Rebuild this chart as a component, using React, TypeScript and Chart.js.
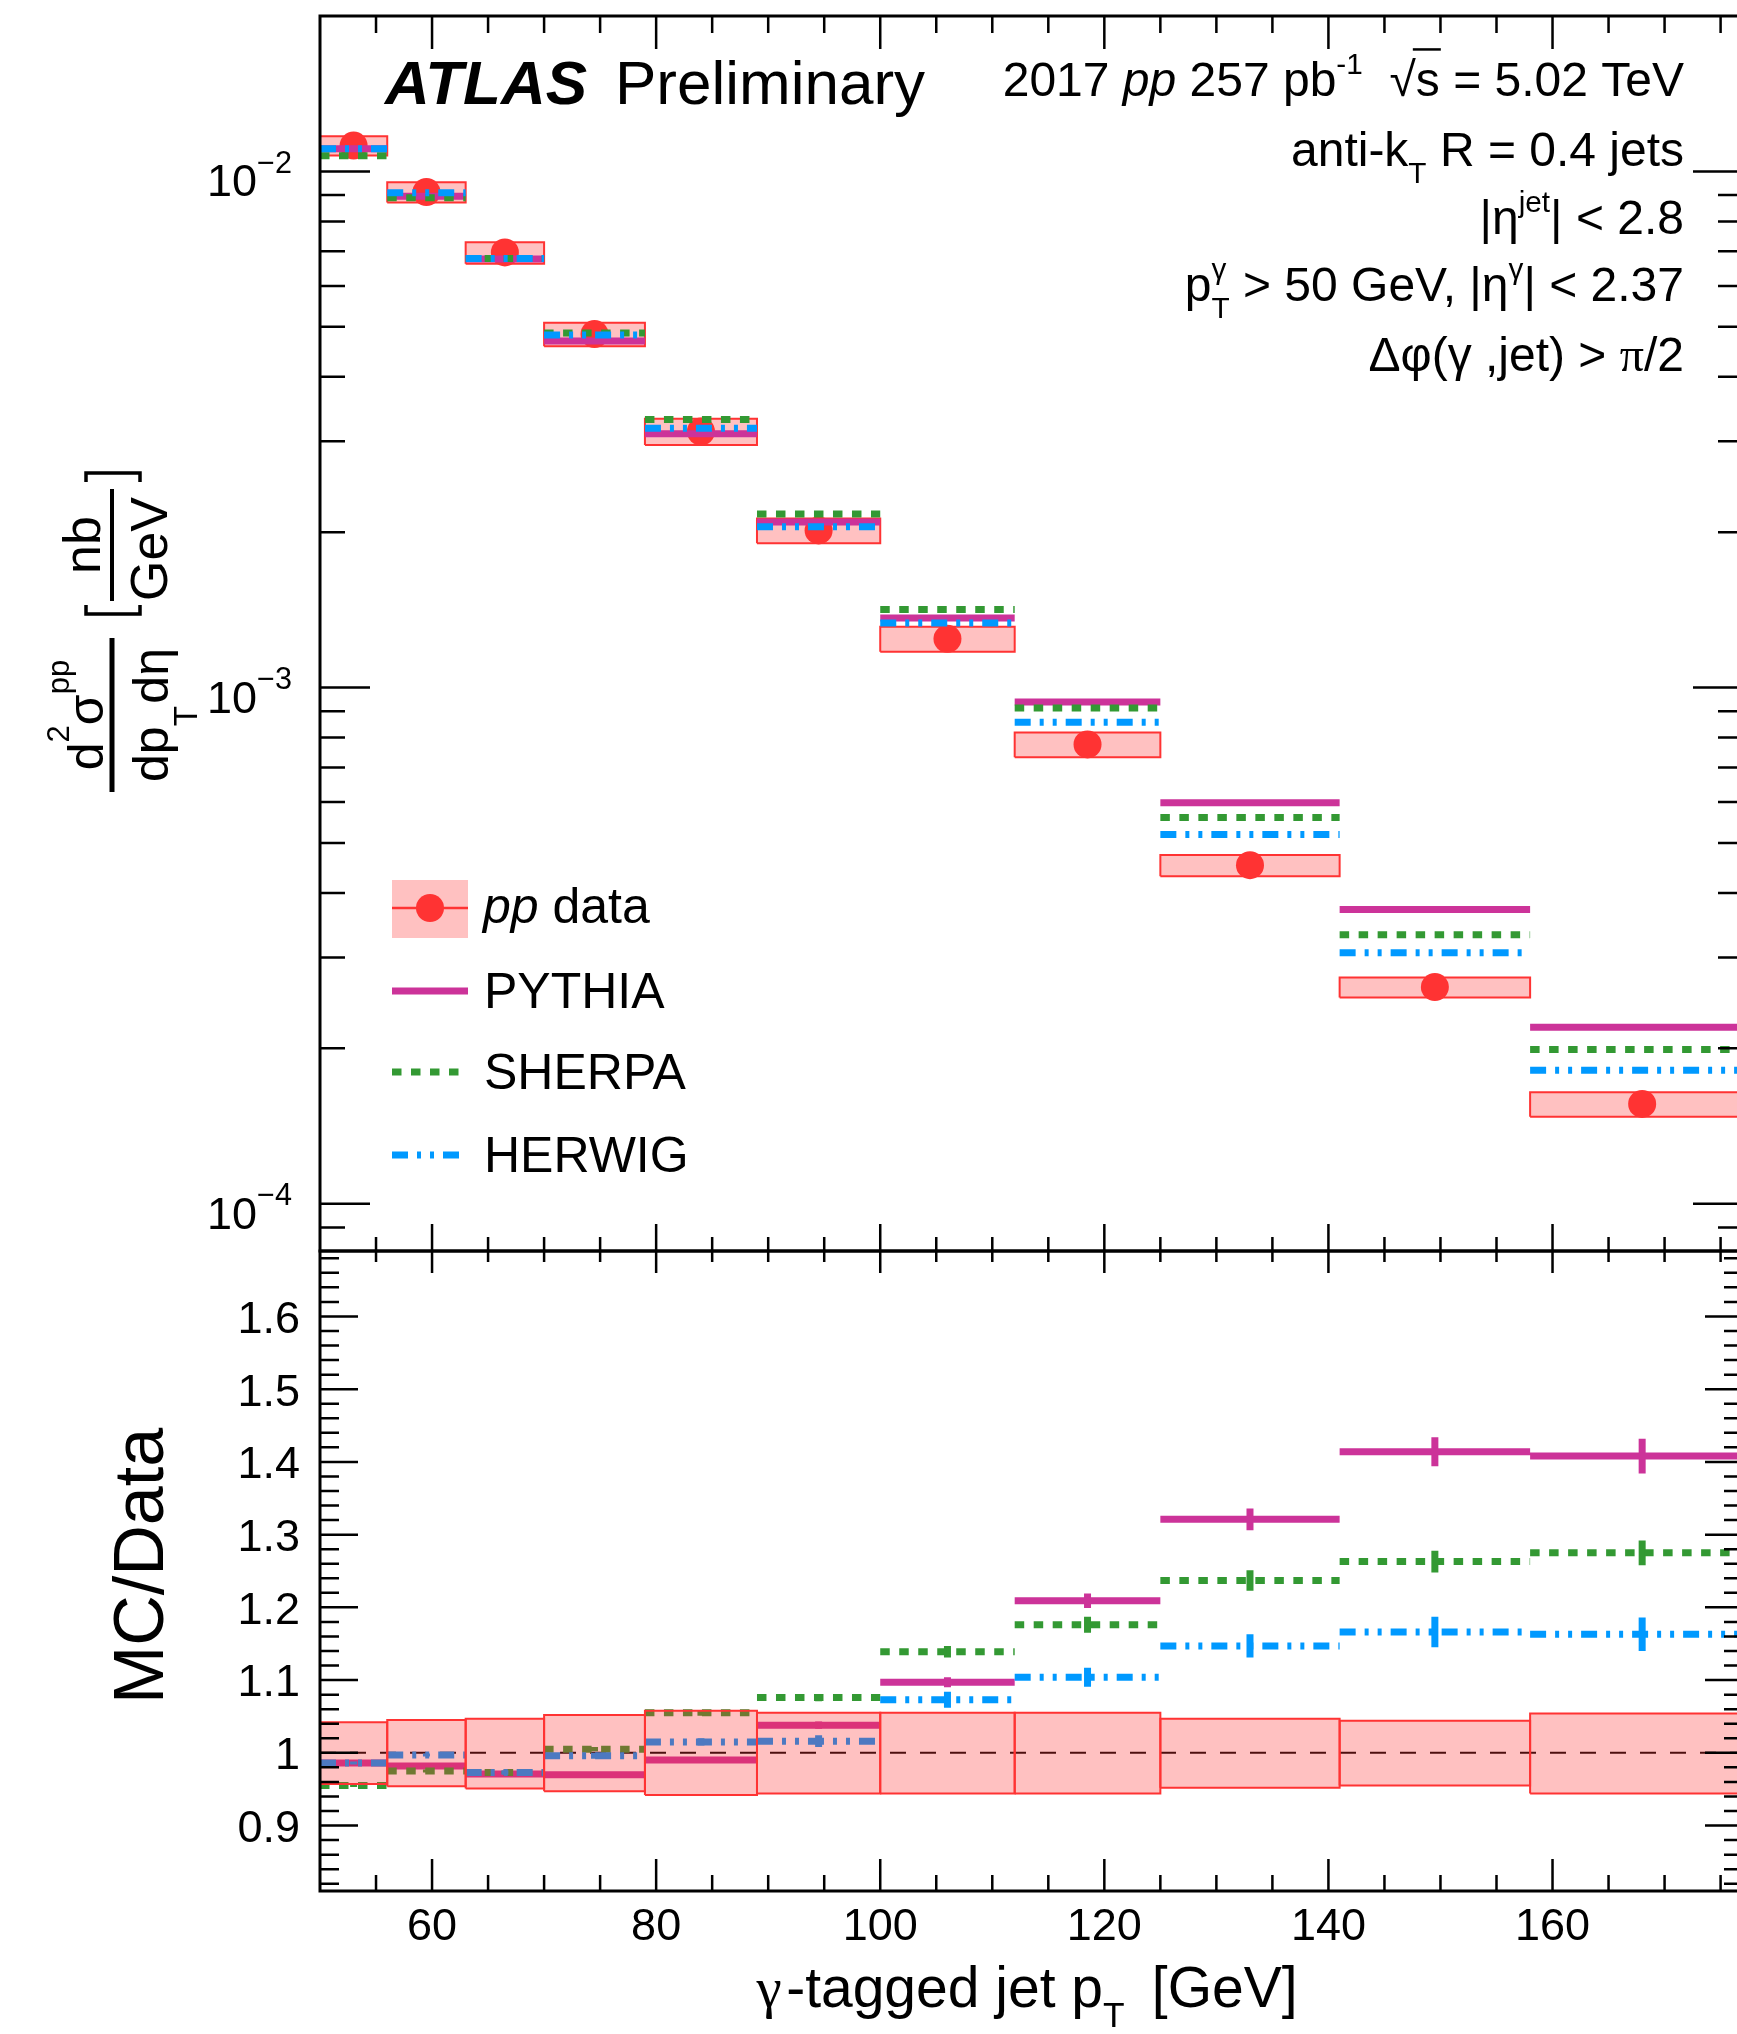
import React, { useEffect, useRef } from 'react';
import { Chart, registerables } from 'chart.js';

Chart.register(...registerables);

// ---------------- values ----------------
const BIN_EDGES = [50, 56, 63, 70, 79, 89, 100, 112, 125, 141, 158, 178];

const DATA_XSEC = [0.01122, 0.009119, 0.006966, 0.00484, 0.003134, 0.002016, 0.001243, 0.0007759, 0.0004528, 0.0002629, 0.0001561];
const DATA_ERR_UP = [0.042, 0.045, 0.047, 0.052, 0.058, 0.055, 0.055, 0.055, 0.047, 0.044, 0.054];
const DATA_ERR_DOWN = [0.043, 0.046, 0.049, 0.053, 0.058, 0.056, 0.056, 0.056, 0.048, 0.045, 0.056];

const PYTHIA_XSEC = [0.01106, 0.008955, 0.006764, 0.004695, 0.003103, 0.002093, 0.001364, 0.0009381, 0.0005981, 0.0003717, 0.0002198];
const SHERPA_XSEC = [0.01072, 0.008891, 0.006778, 0.004864, 0.003306, 0.002169, 0.001416, 0.0009125, 0.0005601, 0.000332, 0.000199];
const HERWIG_XSEC = [0.01106, 0.009092, 0.006778, 0.004821, 0.003181, 0.002048, 0.001334, 0.0008566, 0.0005194, 0.0003065, 0.0001815];

const PYTHIA_RATIO = [0.986, 0.982, 0.971, 0.97, 0.99, 1.038, 1.097, 1.209, 1.321, 1.414, 1.408];
const SHERPA_RATIO = [0.955, 0.975, 0.973, 1.005, 1.055, 1.076, 1.139, 1.176, 1.237, 1.263, 1.275];
const HERWIG_RATIO = [0.986, 0.997, 0.973, 0.996, 1.015, 1.016, 1.073, 1.104, 1.147, 1.166, 1.163];

const PYTHIA_RATIO_ERR = [0.002, 0.002, 0.002, 0.003, 0.003, 0.005, 0.007, 0.01, 0.015, 0.02, 0.024];
const SHERPA_RATIO_ERR = [0.002, 0.002, 0.002, 0.003, 0.004, 0.005, 0.008, 0.011, 0.014, 0.015, 0.017];
const HERWIG_RATIO_ERR = [0.002, 0.002, 0.003, 0.004, 0.005, 0.008, 0.011, 0.013, 0.016, 0.021, 0.023];

const X_TICKS = [60, 80, 100, 120, 140, 160];
const X_TICK_LABELS = ['60', '80', '100', '120', '140', '160'];
const LOG_TICKS = [1e-4, 1e-3, 1e-2];
const LOG_TICK_EXPONENTS = ['\u22124', '\u22123', '\u22122'];
const RATIO_TICKS = [0.9, 1.0, 1.1, 1.2, 1.3, 1.4, 1.5, 1.6];
const RATIO_TICK_LABELS = ['0.9', '1', '1.1', '1.2', '1.3', '1.4', '1.5', '1.6'];

// ---------------- ranges & layout ----------------
const X_MIN = 50;
const X_MAX = 177;
const Y_MIN = 8.1e-5;
const Y_MAX = 0.02;
const R_MIN = 0.81;
const R_MAX = 1.69;

const W = 1800;
const PLOT_L = 320;
const PLOT_R = 1743;
const TOP_H = 1266;
const TOP_PLOT_TOP = 16;
const TOP_PLOT_BOTTOM = 1251;
const BOT_TOP = 1241;
const BOT_H = 2034 - BOT_TOP;
const BOT_PLOT_BOTTOM = 1891 - BOT_TOP;

const SANS = '"Liberation Sans", Arial, Helvetica, sans-serif';
const SERIF = '"Liberation Serif", "Times New Roman", serif';
const RED = '#ff3333';
const BOX_FILL = 'rgba(255, 51, 51, 0.3)';
const PYTHIA_COLOR = '#cc3399';
const SHERPA_COLOR = '#339933';
const HERWIG_COLOR = '#0099ff';
const SHERPA_DASH = [9.5, 9.5];
const HERWIG_DASH = [16, 9, 4, 9, 4, 9];
const LINE_W = 7;

Chart.defaults.font.family = SANS;
Chart.defaults.color = '#000';

// ---------------- helpers ----------------
const X_MINOR: number[] = [];
for (let v = 55; v <= 175; v += 5) if (!X_TICKS.includes(v)) X_MINOR.push(v);
const LOG_MINOR: number[] = [];
for (let e = -5; e <= -2; e++) for (let k = 2; k <= 9; k++) {
  const v = k * Math.pow(10, e);
  if (v > Y_MIN && v < Y_MAX) LOG_MINOR.push(v);
}
const RATIO_MINOR: number[] = [];
for (let k = 41; k <= 84; k++) if (k % 5 !== 0) RATIO_MINOR.push(k * 0.02);

function histPoints(vals: number[]) {
  const pts: any[] = [];
  vals.forEach((v, i) => {
    pts.push({ x: BIN_EDGES[i], y: v }, { x: BIN_EDGES[i + 1], y: v }, { x: BIN_EDGES[i + 1], y: null });
  });
  return pts;
}
function errPoints(vals: number[], errs: number[]) {
  const pts: any[] = [];
  vals.forEach((v, i) => {
    const c = (BIN_EDGES[i] + BIN_EDGES[i + 1]) / 2;
    pts.push({ x: c, y: v - errs[i] }, { x: c, y: v + errs[i] }, { x: c, y: null });
  });
  return pts;
}
function boxDatasets(centers: number[], order: number) {
  return centers.map((v, i) => {
    const x0 = BIN_EDGES[i];
    const x1 = BIN_EDGES[i + 1];
    const lo = v * (1 - DATA_ERR_DOWN[i]);
    const hi = v * (1 + DATA_ERR_UP[i]);
    return {
      type: 'line',
      data: [{ x: x0, y: lo }, { x: x1, y: lo }, { x: x1, y: hi }, { x: x0, y: hi }, { x: x0, y: lo }],
      fill: 'shape',
      backgroundColor: BOX_FILL,
      borderColor: RED,
      borderWidth: 2,
      pointRadius: 0,
      tension: 0,
      order,
    };
  });
}
function lineDs(data: any[], color: string, dash: number[], order: number) {
  return {
    type: 'line',
    data,
    borderColor: color,
    backgroundColor: color,
    borderWidth: LINE_W,
    borderDash: dash,
    borderCapStyle: 'butt',
    pointRadius: 0,
    spanGaps: false,
    fill: false,
    tension: 0,
    order,
  };
}

type Run = { t?: string; sup?: string; sub?: string; it?: boolean; b?: boolean; serif?: boolean; gap?: number; over?: boolean };
type RichOpt = { script?: number; raise?: number; drop?: number };

function fontOf(size: number, r: Run) {
  return `${r.it ? 'italic ' : ''}${r.b ? 'bold ' : ''}${size}px ${r.serif ? SERIF : SANS}`;
}
function runW(ctx: CanvasRenderingContext2D, r: Run, size: number, o: RichOpt) {
  if (r.gap !== undefined) return r.gap * size;
  if (r.sup !== undefined || r.sub !== undefined) {
    ctx.font = fontOf(size * (o.script ?? 0.62), r);
    return Math.max(r.sup ? ctx.measureText(r.sup).width : 0, r.sub ? ctx.measureText(r.sub).width : 0);
  }
  ctx.font = fontOf(size, r);
  return ctx.measureText(r.t ?? '').width;
}
function drawRich(ctx: CanvasRenderingContext2D, runs: Run[], x: number, y: number, size: number, align: string, o: RichOpt = {}) {
  const ws = runs.map((r) => runW(ctx, r, size, o));
  const total = ws.reduce((a, b) => a + b, 0);
  let cx = align === 'right' ? x - total : align === 'center' ? x - total / 2 : x;
  ctx.textAlign = 'left';
  ctx.textBaseline = 'alphabetic';
  runs.forEach((r, i) => {
    if (r.gap === undefined) {
      if (r.sup !== undefined || r.sub !== undefined) {
        ctx.font = fontOf(size * (o.script ?? 0.62), r);
        if (r.sup) ctx.fillText(r.sup, cx, y - size * (o.raise ?? 0.45));
        if (r.sub) ctx.fillText(r.sub, cx, y + size * (o.drop ?? 0.35));
      } else {
        ctx.font = fontOf(size, r);
        ctx.fillText(r.t ?? '', cx, y);
        if (r.over) {
          ctx.save();
          ctx.lineWidth = 2.5;
          ctx.beginPath();
          ctx.moveTo(cx - 3, y - size * 0.97);
          ctx.lineTo(cx + ws[i] + 1, y - size * 0.97);
          ctx.stroke();
          ctx.restore();
        }
      }
    }
    cx += ws[i];
  });
  return total;
}

type TickCfg = {
  yMaj: number[]; yMin: number[]; yMajLen: number; yMinLen: number;
  xTopMaj: number; xTopMin: number; xBotMaj: number; xBotMin: number;
};
function drawFrame(chart: any, cfg: TickCfg) {
  const { ctx, chartArea: a } = chart;
  const xs = chart.scales.x;
  const ys = chart.scales.y;
  ctx.save();
  ctx.strokeStyle = '#000';
  ctx.lineWidth = 2.5;
  ctx.lineCap = 'butt';
  ctx.setLineDash([]);
  ctx.beginPath();
  const yTick = (v: number, len: number) => {
    const p = ys.getPixelForValue(v);
    if (p <= a.top + 1 || p >= a.bottom - 1) return;
    ctx.moveTo(a.left, p); ctx.lineTo(a.left + len, p);
    ctx.moveTo(a.right, p); ctx.lineTo(a.right - len, p);
  };
  const xTick = (v: number, lt: number, lb: number) => {
    const p = xs.getPixelForValue(v);
    if (p <= a.left + 1 || p >= a.right - 1) return;
    ctx.moveTo(p, a.top); ctx.lineTo(p, a.top + lt);
    ctx.moveTo(p, a.bottom); ctx.lineTo(p, a.bottom - lb);
  };
  cfg.yMaj.forEach((v) => yTick(v, cfg.yMajLen));
  cfg.yMin.forEach((v) => yTick(v, cfg.yMinLen));
  X_TICKS.forEach((v) => xTick(v, cfg.xTopMaj, cfg.xBotMaj));
  X_MINOR.forEach((v) => xTick(v, cfg.xTopMin, cfg.xBotMin));
  ctx.stroke();
  ctx.lineWidth = 3;
  ctx.strokeRect(a.left, a.top, a.right - a.left, a.bottom - a.top);
  ctx.restore();
}

const hiddenGrid = { display: false, drawTicks: false };
const hiddenBorder = { display: false };
const noPad = (s: any) => {
  s.paddingTop = 0;
  s.paddingBottom = 0;
  s.paddingLeft = 0;
  s.paddingRight = 0;
};

// ---------------- top panel ----------------
function topConfig(): any {
  const centers = BIN_EDGES.slice(0, -1).map((e, i) => (e + BIN_EDGES[i + 1]) / 2);
  const datasets: any[] = [
    ...boxDatasets(DATA_XSEC, 10),
    {
      type: 'scatter',
      data: DATA_XSEC.map((v, i) => ({ x: centers[i], y: v })),
      pointRadius: 14,
      pointBackgroundColor: RED,
      pointBorderWidth: 0,
      borderColor: RED,
      backgroundColor: RED,
      showLine: false,
      order: 9,
    },
    lineDs(histPoints(PYTHIA_XSEC), PYTHIA_COLOR, [], 8),
    lineDs(histPoints(SHERPA_XSEC), SHERPA_COLOR, SHERPA_DASH, 7),
    lineDs(histPoints(HERWIG_XSEC), HERWIG_COLOR, HERWIG_DASH, 6),
  ];
  const decor = {
    id: 'topDecor',
    afterDraw(chart: any) {
      const ctx: CanvasRenderingContext2D = chart.ctx;
      const ys = chart.scales.y;
      drawFrame(chart, {
        yMaj: LOG_TICKS, yMin: LOG_MINOR, yMajLen: 50, yMinLen: 25,
        xTopMaj: 33, xTopMin: 17, xBotMaj: 27, xBotMin: 14,
      });
      ctx.save();
      ctx.fillStyle = '#000';
      ctx.strokeStyle = '#000';
      // log tick labels
      LOG_TICKS.forEach((v, i) => {
        const p = ys.getPixelForValue(v);
        drawRich(ctx, [{ t: '10' }, { sup: LOG_TICK_EXPONENTS[i] }], 292, p + 25, 45, 'right', { script: 0.68, raise: 0.52 });
      });
      // ATLAS label
      ctx.textAlign = 'left';
      ctx.textBaseline = 'alphabetic';
      ctx.font = `italic bold 62px ${SANS}`;
      ctx.fillText('ATLAS', 385, 104);
      ctx.font = `62px ${SANS}`;
      ctx.fillText('Preliminary', 615, 104);
      // info lines
      const IX = 1684;
      const IS = 48;
      drawRich(ctx, [{ t: '2017 ' }, { t: 'pp', it: true }, { t: ' 257 pb' }, { sup: '-1' }, { t: '  \u221A' }, { t: 's', over: true }, { t: ' = 5.02 TeV' }], IX, 96, IS, 'right');
      drawRich(ctx, [{ t: 'anti-k' }, { sub: 'T' }, { t: ' R = 0.4 jets' }], IX, 166, IS, 'right');
      drawRich(ctx, [{ t: '|\u03B7' }, { sup: 'jet' }, { t: '| < 2.8' }], IX, 234, IS, 'right');
      drawRich(ctx, [{ t: 'p' }, { sub: 'T', sup: '\u03B3' }, { t: ' > 50 GeV, |\u03B7' }, { sup: '\u03B3' }, { t: '| < 2.37' }], IX, 301, IS, 'right');
      drawRich(ctx, [{ t: '\u0394\u03C6(\u03B3 ,jet) > ' }, { t: '\u03C0', serif: true }, { t: '/2' }], IX, 371, IS, 'right');
      // legend
      ctx.fillStyle = BOX_FILL;
      ctx.fillRect(392, 880, 76, 58);
      ctx.strokeStyle = RED;
      ctx.lineWidth = 2.5;
      ctx.beginPath(); ctx.moveTo(392, 908); ctx.lineTo(468, 908); ctx.stroke();
      ctx.fillStyle = RED;
      ctx.beginPath(); ctx.arc(430, 908, 14, 0, Math.PI * 2); ctx.fill();
      const leg = [
        { y: 991, c: PYTHIA_COLOR, d: [] as number[], label: 'PYTHIA' },
        { y: 1072, c: SHERPA_COLOR, d: SHERPA_DASH, label: 'SHERPA' },
        { y: 1155, c: HERWIG_COLOR, d: HERWIG_DASH, label: 'HERWIG' },
      ];
      leg.forEach((e) => {
        ctx.strokeStyle = e.c;
        ctx.lineWidth = LINE_W;
        ctx.lineCap = 'butt';
        ctx.setLineDash(e.d);
        ctx.beginPath(); ctx.moveTo(392, e.y); ctx.lineTo(468, e.y); ctx.stroke();
        ctx.setLineDash([]);
        ctx.fillStyle = '#000';
        drawRich(ctx, [{ t: e.label }], 484, e.y + 17, 50, 'left');
      });
      ctx.fillStyle = '#000';
      drawRich(ctx, [{ t: 'pp', it: true }, { t: ' data' }], 483, 923, 50, 'left');
      // y-axis title (rotated)
      ctx.save();
      ctx.translate(112, 632);
      ctx.rotate(-Math.PI / 2);
      const F = 50;
      drawRich(ctx, [{ t: 'd' }, { sup: '2' }, { t: '\u03C3' }, { sup: 'pp' }], -83, -9, F, 'center', { script: 0.62, raise: 0.68 });
      drawRich(ctx, [{ t: 'dp' }, { sub: 'T' }, { gap: 0.05 }, { t: 'd\u03B7' }], -83, 56, F, 'center', { script: 0.66, drop: 0.58 });
      ctx.fillRect(-160, -2.5, 154, 5);
      ctx.fillRect(31, -2, 112, 4);
      drawRich(ctx, [{ t: 'nb' }], 87, -12, F + 2, 'center');
      drawRich(ctx, [{ t: 'GeV' }], 83, 55, F + 2, 'center');
      ctx.lineWidth = 3.5;
      ctx.strokeStyle = '#000';
      ctx.beginPath();
      ctx.moveTo(27, -26); ctx.lineTo(18, -26); ctx.lineTo(18, 28); ctx.lineTo(27, 28);
      ctx.moveTo(150, -26); ctx.lineTo(159, -26); ctx.lineTo(159, 28); ctx.lineTo(150, 28);
      ctx.stroke();
      ctx.restore();
      ctx.restore();
    },
  };
  return {
    type: 'line',
    data: { datasets },
    options: {
      responsive: false,
      maintainAspectRatio: false,
      animation: false,
      devicePixelRatio: 1,
      events: [],
      layout: { autoPadding: false, padding: { left: 0, right: W - PLOT_R, top: TOP_PLOT_TOP, bottom: 0 } },
      plugins: { legend: { display: false }, tooltip: { enabled: false }, title: { display: false } },
      scales: {
        x: {
          type: 'linear', min: X_MIN, max: X_MAX, bounds: 'data',
          grid: hiddenGrid, border: hiddenBorder, ticks: { display: false },
          afterFit: (s: any) => { s.height = TOP_H - TOP_PLOT_BOTTOM; noPad(s); },
        },
        y: {
          type: 'logarithmic', min: Y_MIN, max: Y_MAX, bounds: 'data',
          grid: hiddenGrid, border: hiddenBorder, ticks: { display: false },
          afterFit: (s: any) => { s.width = PLOT_L; noPad(s); },
        },
      },
    },
    plugins: [decor],
  };
}

// ---------------- ratio panel ----------------
function bottomConfig(): any {
  const ones = DATA_XSEC.map(() => 1);
  const datasets: any[] = [
    {
      type: 'line',
      data: [{ x: X_MIN, y: 1 }, { x: X_MAX, y: 1 }],
      borderColor: '#000',
      borderWidth: 2,
      borderDash: [16, 14],
      pointRadius: 0,
      fill: false,
      order: 20,
    },
    lineDs(errPoints(PYTHIA_RATIO, PYTHIA_RATIO_ERR), PYTHIA_COLOR, [], 16),
    lineDs(histPoints(PYTHIA_RATIO), PYTHIA_COLOR, [], 15),
    lineDs(errPoints(SHERPA_RATIO, SHERPA_RATIO_ERR), SHERPA_COLOR, [], 14),
    lineDs(histPoints(SHERPA_RATIO), SHERPA_COLOR, SHERPA_DASH, 13),
    lineDs(errPoints(HERWIG_RATIO, HERWIG_RATIO_ERR), HERWIG_COLOR, [], 12),
    lineDs(histPoints(HERWIG_RATIO), HERWIG_COLOR, HERWIG_DASH, 11),
    ...boxDatasets(ones, 5),
  ];
  const decor = {
    id: 'botDecor',
    afterDraw(chart: any) {
      const ctx: CanvasRenderingContext2D = chart.ctx;
      drawFrame(chart, {
        yMaj: RATIO_TICKS, yMin: RATIO_MINOR, yMajLen: 38, yMinLen: 19,
        xTopMaj: 22, xTopMin: 11, xBotMaj: 32, xBotMin: 16,
      });
      ctx.save();
      ctx.fillStyle = '#000';
      ctx.save();
      ctx.translate(163, 1566 - BOT_TOP);
      ctx.rotate(-Math.PI / 2);
      ctx.font = `70px ${SANS}`;
      ctx.textAlign = 'center';
      ctx.textBaseline = 'alphabetic';
      ctx.fillText('MC/Data', 0, 0);
      ctx.restore();
      drawRich(ctx, [{ t: '\u03B3', serif: true }, { gap: 0.08 }, { t: '-tagged jet p' }, { sub: 'T' }, { gap: 0.2 }, { t: ' [GeV]' }], 1027, 2007 - BOT_TOP, 57, 'center', { script: 0.62, drop: 0.35 });
      ctx.restore();
    },
  };
  return {
    type: 'line',
    data: { datasets },
    options: {
      responsive: false,
      maintainAspectRatio: false,
      animation: false,
      devicePixelRatio: 1,
      events: [],
      layout: { autoPadding: false, padding: { left: 0, right: W - PLOT_R, top: TOP_PLOT_BOTTOM - BOT_TOP, bottom: 0 } },
      plugins: { legend: { display: false }, tooltip: { enabled: false }, title: { display: false } },
      scales: {
        x: {
          type: 'linear', min: X_MIN, max: X_MAX, bounds: 'data',
          grid: hiddenGrid, border: hiddenBorder,
          ticks: {
            autoSkip: false, maxRotation: 0, minRotation: 0, padding: 10,
            font: { family: SANS, size: 45 }, color: '#000',
            callback: (_v: any, i: number) => X_TICK_LABELS[i],
          },
          afterBuildTicks: (s: any) => { s.ticks = X_TICKS.map((v) => ({ value: v })); },
          afterFit: (s: any) => { s.height = BOT_H - BOT_PLOT_BOTTOM; noPad(s); },
        },
        y: {
          type: 'linear', min: R_MIN, max: R_MAX, bounds: 'data',
          grid: hiddenGrid, border: hiddenBorder,
          ticks: {
            autoSkip: false, padding: 20, labelOffset: 4,
            font: { family: SANS, size: 45 }, color: '#000',
            callback: (_v: any, i: number) => RATIO_TICK_LABELS[i],
          },
          afterBuildTicks: (s: any) => { s.ticks = RATIO_TICKS.map((v) => ({ value: v })); },
          afterFit: (s: any) => { s.width = PLOT_L; noPad(s); },
        },
      },
    },
    plugins: [decor],
  };
}

export default function App() {
  const topRef = useRef<HTMLCanvasElement>(null);
  const botRef = useRef<HTMLCanvasElement>(null);
  useEffect(() => {
    const top = new Chart(topRef.current as HTMLCanvasElement, topConfig());
    const bot = new Chart(botRef.current as HTMLCanvasElement, bottomConfig());
    return () => {
      top.destroy();
      bot.destroy();
    };
  }, []);
  return (
    <div style={{ position: 'fixed', left: 0, top: 0, width: 1737, height: 2034, overflow: 'hidden', background: '#fff' }}>
      <canvas ref={topRef} width={W} height={TOP_H} style={{ position: 'absolute', left: 0, top: 0, width: W, height: TOP_H }} />
      <canvas ref={botRef} width={W} height={BOT_H} style={{ position: 'absolute', left: 0, top: BOT_TOP, width: W, height: BOT_H }} />
    </div>
  );
}
